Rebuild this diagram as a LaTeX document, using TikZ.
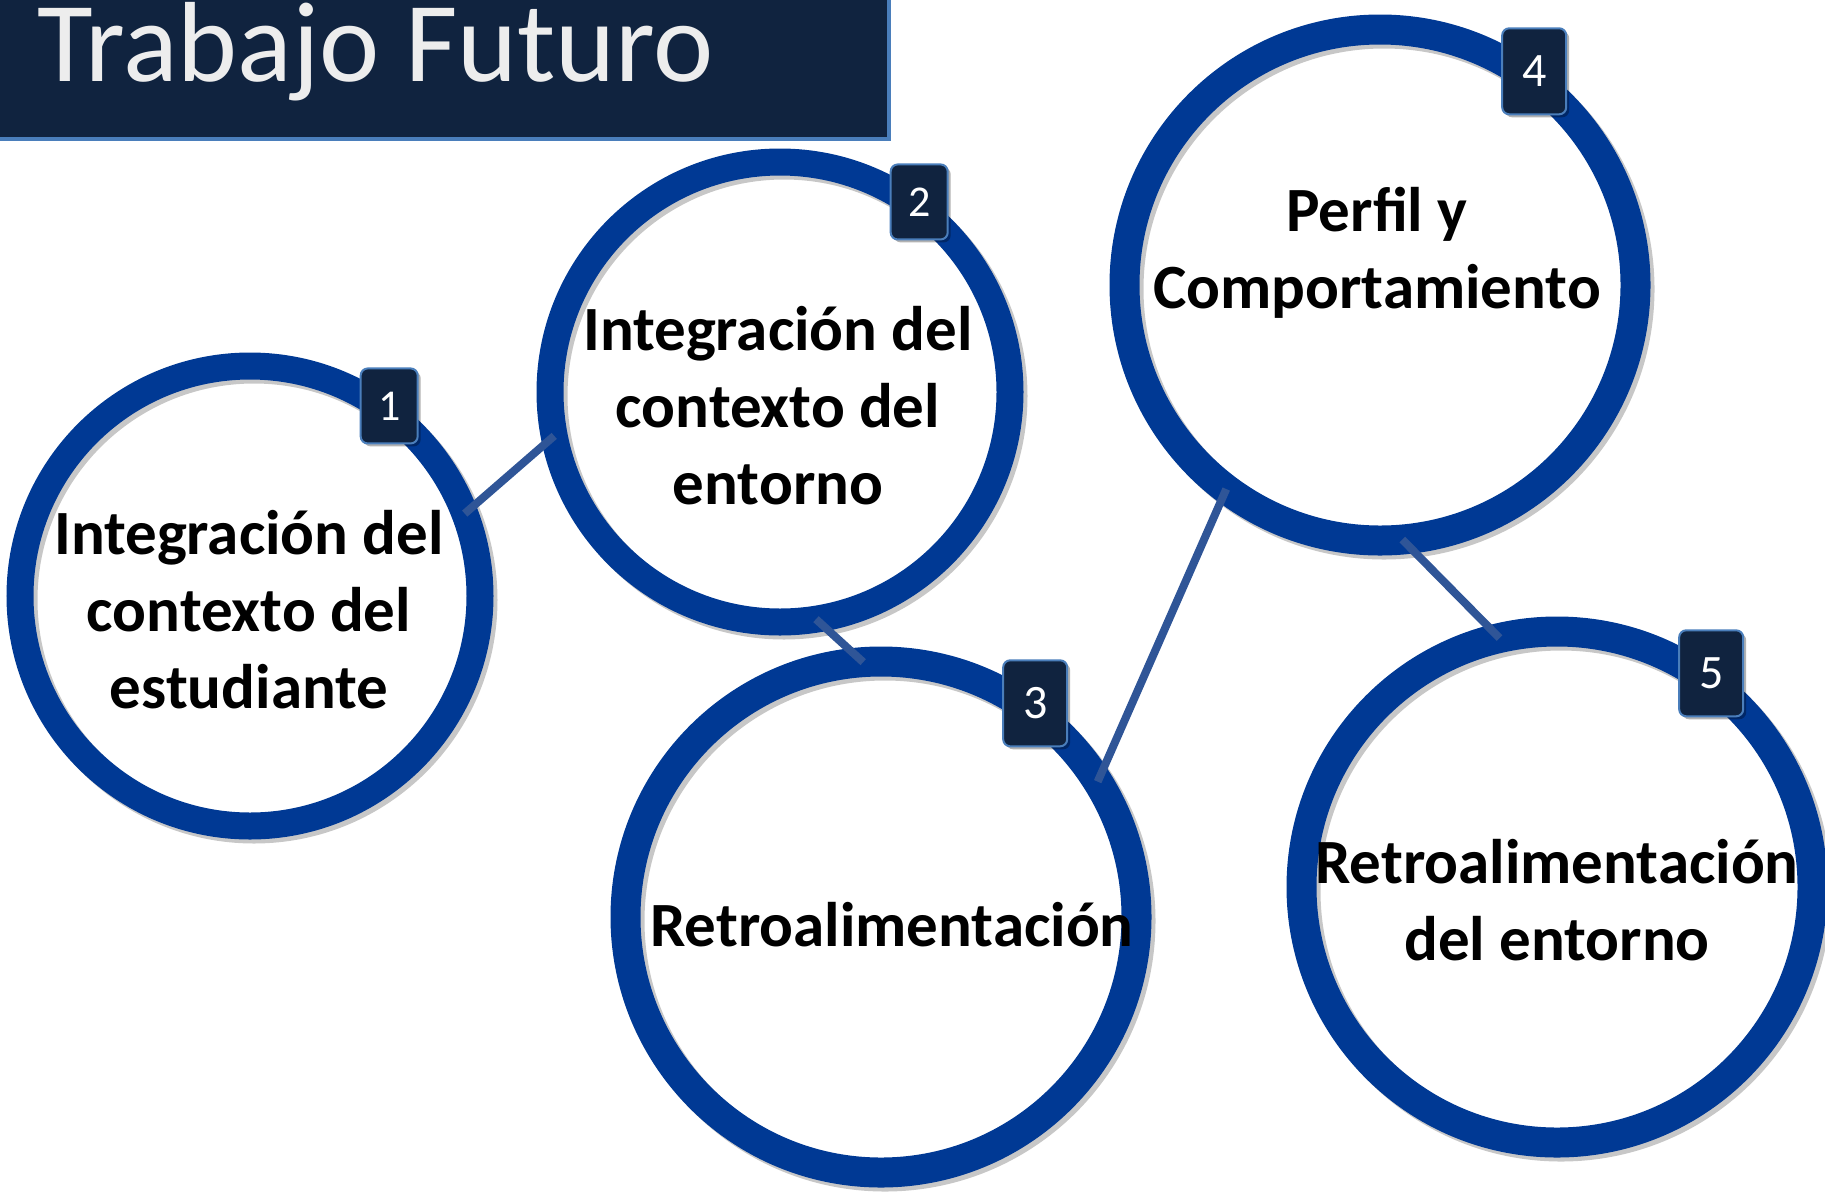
\documentclass[tikz,border=0pt]{standalone}
\usepackage{fontspec}
\setmainfont{Carlito}
\usetikzlibrary{positioning}
\definecolor{ringblue}{HTML}{003994}
\definecolor{linkblue}{HTML}{2F5597}
\definecolor{navy}{HTML}{10233F}
\definecolor{edgeblue}{HTML}{4A7EBB}
\definecolor{titlegray}{HTML}{EDEDED}

\begin{document}
\begin{tikzpicture}[x=1pt, y=-1pt,
      ring/.style = {
        circle, draw=ringblue, outer sep=0pt, inner sep=0pt,
        preaction={draw=black, draw opacity=.22,
          transform canvas={shift={(4pt,-4pt)}}} },
      ring-small/.style = { ring, line width=27pt, minimum size=460pt },
      ring-large/.style = { ring, line width=30pt, minimum size=511pt },
      ringtext/.style = { align=center, inner sep=0pt,
        font=\fontsize{63}{77}\selectfont\bfseries },
      badge/.style = {
        rectangle, rounded corners=7pt, fill=navy, draw=edgeblue,
        line width=2pt, text=white, minimum width=57pt, minimum height=75pt,
        xshift=4pt, yshift=4pt, font=\fontsize{44}{50}\selectfont,
        preaction={fill=black, fill opacity=.3,
          transform canvas={shift={(3pt,-3pt)}}} },
      badge-large/.style = { badge, minimum width=64pt, minimum height=86pt,
        yshift=3pt, font=\fontsize{48}{54}\selectfont },
      link/.style = { draw=linkblue, line width=8pt }]
    \useasboundingbox (0,0) rectangle (1825,1195);
    % title bar
    \path[fill=navy, draw=edgeblue, line width=4pt] (-10,-10) rectangle (889,139);
    \node[anchor=base west, inner sep=0pt, text=titlegray,
      font=\fontsize{114}{120}\selectfont] (title) at (37,81) {Trabajo Futuro};
    % rings
    \node [ring-small] (c1) at (250,596) {};
    \node [ring-small] (c2) at (780,392) {};
    \node [ring-large] (c3) at (881,917) {};
    \node [ring-large] (c4) at (1380,285) {};
    \node [ring-large] (c5) at (1557,887) {};
    \node [ringtext] (t1) at (249,610) {Integración del\\ contexto del\\ estudiante};
    \node [ringtext] (t2) at (778,406) {Integración del\\ contexto del\\ entorno};
    \node [ringtext] (t3) at (892,925) {Retroalimentación};
    \node [ringtext] (t4) at (1377,253) {Perfil y\\ Comportamiento};
    \node [ringtext] (t5) at (1557,900) {Retroalimentación\\ del entorno};
    % connect the rings
    \draw[link] (c1.21) -- (c2.191);
    \draw[link] (c2.279) -- (c3.94);
    \draw[link] (c3.32) -- (c4.233);
    \draw[link] (c4.275) -- (c5.103);
    % numbers
    \node [badge] (n1) at (c1.54) {1};
    \node [badge] (n2) at (c2.54) {2};
    \node [badge-large] (n3) at (c3.54) {3};
    \node [badge-large] (n4) at (c4.54) {4};
    \node [badge-large] (n5) at (c5.54) {5};
  \end{tikzpicture}
\end{document}
